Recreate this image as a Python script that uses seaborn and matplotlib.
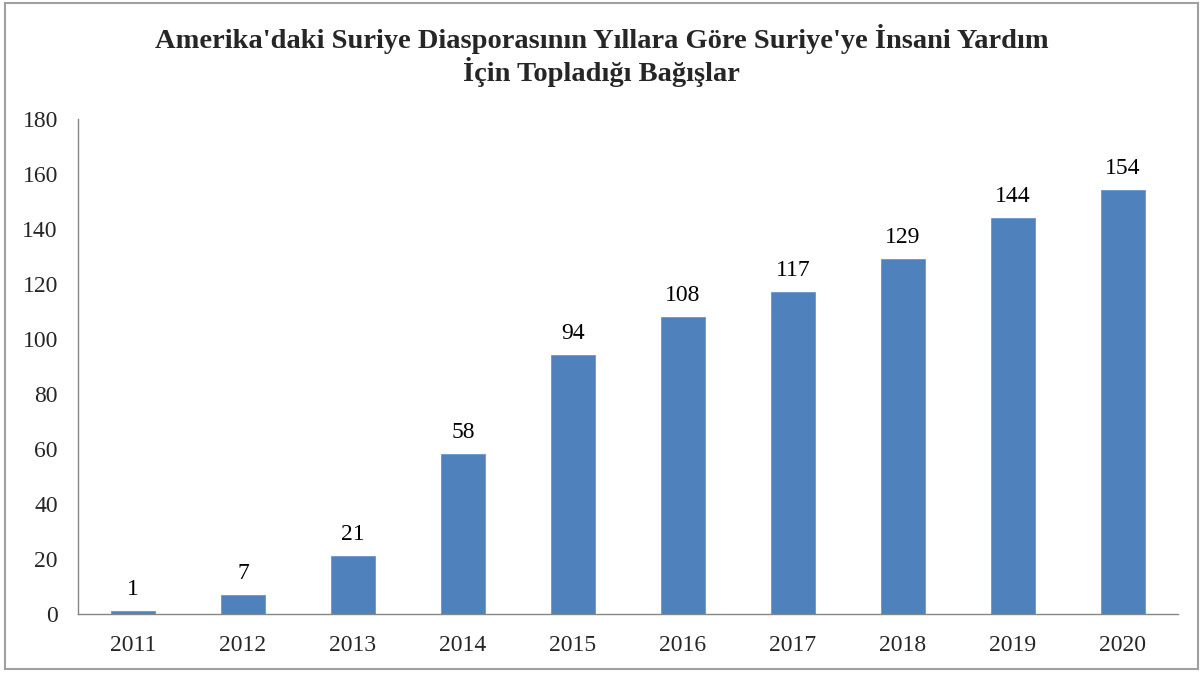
import numpy as np
import pandas as pd
import matplotlib
matplotlib.use('Agg')
import matplotlib.pyplot as plt
from matplotlib.patches import Rectangle
import seaborn as sns

years = ['2011', '2012', '2013', '2014', '2015', '2016', '2017', '2018', '2019', '2020']
donations = [1, 7, 21, 58, 94, 108, 117, 129, 144, 154]
title = "Amerika'daki Suriye Diasporasının Yıllara Göre Suriye'ye İnsani Yardım\nİçin Topladığı Bağışlar"

df = pd.DataFrame({'year': years, 'value': donations})

sns.set_style('white')
plt.rcParams['font.family'] = ['Liberation Serif', 'DejaVu Serif']

fig = plt.figure(figsize=(12.03, 6.73), dpi=100)
ax = fig.add_axes([0.0648, 0.0877, 0.9142, 0.7355])

sns.barplot(data=df, x='year', y='value', order=years, color='#4F81BD',
            saturation=1, width=0.4, edgecolor='#6A96CC', linewidth=0.6, ax=ax)

# value labels above the bars
for i, v in enumerate(donations):
    ax.annotate(str(v), (i, v), xytext=(0, 8), textcoords='offset points',
                ha='center', va='bottom', fontsize=17, color='black')

ax.set_xlim(-0.5, len(years) - 0.5)
ax.set_ylim(0, 180)
ax.set_yticks(np.arange(0, 181, 20))
ax.set_xlabel('')
ax.set_ylabel('')
ax.set_xticks(np.arange(-0.5, len(years), 1), minor=True)
ax.tick_params(axis='x', which='major', length=0, labelsize=17, pad=15)
ax.tick_params(axis='x', which='minor', length=5, color='#868686', width=1, direction='out')
ax.tick_params(axis='y', length=4.5, color='#868686', width=1, direction='out', labelsize=17, pad=10)

for side in ['top', 'right']:
    ax.spines[side].set_visible(False)
for side in ['left', 'bottom']:
    ax.spines[side].set_color('#868686')
    ax.spines[side].set_linewidth(1)

fig.text(0.5, 0.917, title, ha='center', va='center', fontsize=20.5,
         fontweight='bold', linespacing=1.12)

fig.patches.append(Rectangle((0.004, 0.006), 0.992, 0.99, transform=fig.transFigure,
                             fill=False, edgecolor='#A0A0A0', linewidth=1.5))

fig.savefig('out.png', dpi=100)
